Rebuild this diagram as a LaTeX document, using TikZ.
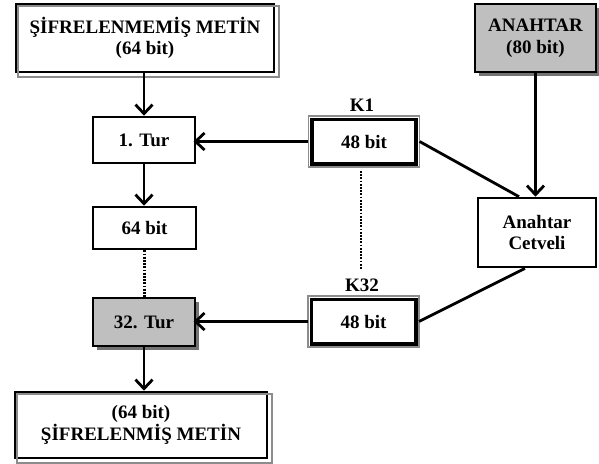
\documentclass[tikz,border=0pt]{standalone}
\usepackage{fontspec}
\setmainfont{Liberation Serif}
\usetikzlibrary{arrows.meta,shadows}
\begin{document}
\begin{tikzpicture}[x=1pt,y=-1pt,
  txt/.style={font=\fontsize{19}{21.5}\selectfont\bfseries, align=center},
  box/.style={txt, draw=black, line width=2.6pt, fill=white, inner sep=0pt},
  grbox/.style={box, fill=black!25, drop shadow={shadow xshift=3.5pt, shadow yshift=-3.5pt, fill=black!55, opacity=1}},
  conn/.style={line width=2.8pt, -{Straight Barb[length=9pt,width=17pt,line width=2.8pt]}},
  plainline/.style={line width=2.8pt},
  dotline/.style={line width=2.6pt, dash pattern=on 1.8pt off 1.4pt},
  offgray/.style={draw=black!45, line width=1.6pt},
]
\useasboundingbox (0,0) rectangle (599,463);

% nodes
\node[box, minimum width=258pt, minimum height=68pt] (pt) at (145,38) {ŞİFRELENMEMİŞ METİN\\(64 bit)};
\node[grbox, minimum width=121pt, minimum height=68pt] (key) at (535.5,38) {ANAHTAR\\(80 bit)};
\node[box, minimum width=102pt, minimum height=46pt] (r1) at (144,140) {1. Tur};
\node[box, minimum width=103pt, minimum height=43pt] (k1) at (364,141.5) {48 bit};
\node[txt] (k1lab) at (362,105) {K1};
\node[box, minimum width=103pt, minimum height=42pt] (c64) at (144.5,228) {64 bit};
\node[grbox, minimum width=102pt, minimum height=48pt] (r32) at (144,322) {32. Tur};
\node[box, minimum width=103pt, minimum height=43pt] (k32) at (363.5,321.5) {48 bit};
\node[txt] (k32lab) at (362,285) {K32};
\node[box, minimum width=118pt, minimum height=69pt] (ks) at (537,232.5) {Anahtar\\Cetveli};
\node[box, minimum width=252pt, minimum height=66pt] (ct) at (141,425) {(64 bit)\\ŞİFRELENMİŞ METİN};
\coordinate (dA) at (361,171);
\coordinate (dB) at (361,269);

% extra frame lines
\draw[offgray] ([shift={(3.5,3.5)}]pt.north west) rectangle ([shift={(3.5,3.5)}]pt.south east);
\draw[offgray] ([shift={(3.5,3.5)}]ct.north west) rectangle ([shift={(3.5,3.5)}]ct.south east);
\draw[offgray] ([shift={(-2.8,-2.8)}]k1.north west) rectangle ([shift={(2.8,2.8)}]k1.south east);
\draw[offgray] ([shift={(-2.8,-2.8)}]k32.north west) rectangle ([shift={(2.8,2.8)}]k32.south east);
\draw[line width=2.4pt] (k1.north west) rectangle (k1.south east);
\draw[line width=2.4pt] (k32.north west) rectangle (k32.south east);

% connectors
\draw[conn] (pt.south -| r1.north) -- (r1.north);
\draw[conn] ([xshift=-2.8pt]k1.west) -- ([xshift=-2.8pt]k1.west -| r1.east);
\draw[conn] (r1.south) -- (r1.south |- c64.north);
\draw[dotline] (c64.south) -- (c64.south |- r32.north);
\draw[conn] (r32.south) -- (r32.south |- ct.north);
\draw[conn] ([xshift=-2.8pt]k32.west) -- ([xshift=-2.8pt]k32.west -| r32.east);
\draw[conn] (key.south) -- (key.south |- ks.north);
\draw[plainline] ([xshift=2.8pt]k1.east) -- ([xshift=-18pt]ks.north);
\draw[plainline] ([xshift=-12pt]ks.south) -- ([xshift=2.8pt]k32.east);
\draw[dotline] (dA) -- (dB);
\end{tikzpicture}
\end{document}
